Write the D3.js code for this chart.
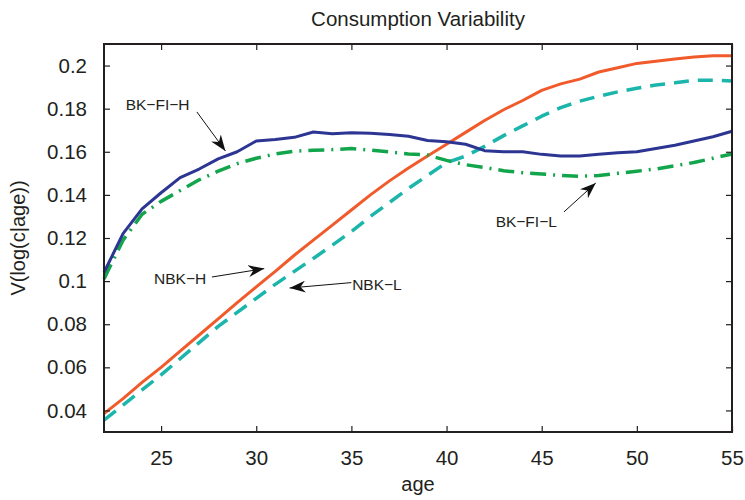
<!DOCTYPE html>
<html>
<head>
<meta charset="utf-8">
<script src="https://cdn.jsdelivr.net/npm/d3@7"></script>
<style>
  body { margin: 0; background: #fff; }
  svg { display: block; font-family: "Liberation Sans", Arial, Helvetica, sans-serif; }
</style>
</head>
<body>
<svg id="chart"></svg>
<script>
// ages on the x axis
var ages = d3.range(22, 56)

// BK-FI-H (solid navy)
var bkfiH = [0.104, 0.122, 0.1335, 0.141, 0.148, 0.152, 0.1567, 0.160, 0.165, 0.1657,
    0.1667, 0.1692, 0.1684, 0.1688, 0.1686, 0.168, 0.1672, 0.1652, 0.1646, 0.1635,
    0.1605, 0.160, 0.160, 0.1588, 0.158, 0.158, 0.1588, 0.1595, 0.160, 0.1615,
    0.163, 0.165, 0.167, 0.1695]

// BK-FI-L (dash-dot green)
var bkfiL = [0.101, 0.119, 0.131, 0.137, 0.142, 0.147, 0.151, 0.1545, 0.157, 0.159,
    0.1603, 0.1607, 0.161, 0.1615, 0.1608, 0.160, 0.159, 0.1585, 0.156, 0.154,
    0.1527, 0.1512, 0.1503, 0.1497, 0.149, 0.1486, 0.149, 0.150, 0.151, 0.152,
    0.1535, 0.155, 0.157, 0.159]

// NBK-H (solid orange-red)
var nbkH = [0.0385, 0.0455, 0.053, 0.060, 0.0675, 0.075, 0.0825, 0.090, 0.0973, 0.1045,
    0.112, 0.119, 0.126, 0.133, 0.140, 0.1465, 0.1525, 0.158, 0.1635, 0.169,
    0.1745, 0.1795, 0.1838, 0.1885, 0.1915, 0.1937, 0.197, 0.199, 0.201, 0.202,
    0.203, 0.204, 0.2045, 0.2045]

// NBK-L (dashed teal)
var nbkL = [0.0355, 0.0425, 0.0495, 0.0565, 0.064, 0.0715, 0.079, 0.0855, 0.092, 0.0985,
    0.1045, 0.1105, 0.1167, 0.123, 0.130, 0.1365, 0.143, 0.149, 0.155, 0.158,
    0.1625, 0.1675, 0.172, 0.1765, 0.1805, 0.1835, 0.1858, 0.1878, 0.1895, 0.191,
    0.192, 0.1932, 0.1932, 0.1928]

var xTicks = [25, 30, 35, 40, 45, 50, 55]
var yTicks = [0.04, 0.06, 0.08, 0.1, 0.12, 0.14, 0.16, 0.18, 0.2]

// annotations: label position, arrow start, arrow tip (age, value)
var labels = ["BK\u2212FI\u2212H", "NBK\u2212H", "NBK\u2212L", "BK\u2212FI\u2212L"]
var labelPos = [[23.14, 0.1792], [24.63, 0.0988], [35.04, 0.0957], [42.58, 0.1251]]
var arrowFrom = [[26.88, 0.1785], [27.67, 0.1019], [35.0, 0.0993], [46.17, 0.1321]]
var arrowTo = [[28.38, 0.1604], [30.42, 0.1058], [31.75, 0.0968], [47.84, 0.1455]]

var dimensions = {
    width: 745,
    height: 500,
    margin: { top: 44, bottom: 68, right: 13, left: 104 }
}

var svg = d3.select("#chart")
    .attr("width", dimensions.width)
    .attr("height", dimensions.height)

var xScale = d3.scaleLinear()
    .domain([22, 55])
    .range([dimensions.margin.left, dimensions.width - dimensions.margin.right])

var yScale = d3.scaleLinear()
    .domain([0.03, 0.21])
    .range([dimensions.height - dimensions.margin.bottom, dimensions.margin.top])

var textColor = "#231f20"

// title
svg.append("text")
    .attr("x", (xScale.range()[0] + xScale.range()[1]) / 2)
    .attr("y", 26)
    .attr("text-anchor", "middle")
    .attr("font-size", "20.5px")
    .attr("fill", textColor)
    .text("Consumption Variability")

// series
var series = [
    { values: nbkH, color: "#f15a2b", width: 3, dash: null },
    { values: nbkL, color: "#1cb5ab", width: 3.5, dash: "15,9" },
    { values: bkfiL, color: "#12a54b", width: 3.5, dash: "16,7,2,7" },
    { values: bkfiH, color: "#2d3593", width: 3, dash: null }
]

var line = d3.line()
    .x((d, i) => xScale(ages[i]))
    .y(d => yScale(d))

svg.append("g")
    .selectAll("path")
    .data(series)
    .enter()
    .append("path")
    .attr("d", d => line(d.values))
    .attr("fill", "none")
    .attr("stroke", d => d.color)
    .attr("stroke-width", d => d.width)
    .attr("stroke-dasharray", d => d.dash)
    .attr("stroke-linejoin", "round")

// axes (ticks point inward, box style)
var plotW = dimensions.width - dimensions.margin.right - dimensions.margin.left
var plotH = dimensions.height - dimensions.margin.bottom - dimensions.margin.top

var leftAxis = d3.axisLeft(yScale).tickValues(yTicks)
    .tickFormat(d3.format(".2~f")).tickSizeInner(-6).tickSizeOuter(0).tickPadding(17)
var rightAxis = d3.axisRight(yScale).tickValues(yTicks)
    .tickFormat("").tickSizeInner(-6).tickSizeOuter(0)
var bottomAxis = d3.axisBottom(xScale).tickValues(xTicks)
    .tickSizeInner(-6).tickSizeOuter(0).tickPadding(18)
var topAxis = d3.axisTop(xScale).tickValues(xTicks)
    .tickFormat("").tickSizeInner(-6).tickSizeOuter(0)

var axes = [
    svg.append("g").attr("transform", "translate(" + dimensions.margin.left + ",0)").call(leftAxis),
    svg.append("g").attr("transform", "translate(" + (dimensions.width - dimensions.margin.right) + ",0)").call(rightAxis),
    svg.append("g").attr("transform", "translate(0," + (dimensions.height - dimensions.margin.bottom) + ")").call(bottomAxis),
    svg.append("g").attr("transform", "translate(0," + dimensions.margin.top + ")").call(topAxis)
]
axes.forEach(function (g) {
    g.select(".domain").remove()
    g.selectAll("line").attr("stroke", textColor).attr("stroke-width", 1.2)
    g.selectAll("text").attr("font-size", "20.5px").attr("fill", textColor)
        .attr("font-family", "Liberation Sans, Arial, sans-serif")
})

svg.append("rect")
    .attr("x", dimensions.margin.left)
    .attr("y", dimensions.margin.top)
    .attr("width", plotW)
    .attr("height", plotH)
    .attr("fill", "none")
    .attr("stroke", textColor)
    .attr("stroke-width", 2)

// axis labels
svg.append("text")
    .attr("x", (xScale.range()[0] + xScale.range()[1]) / 2)
    .attr("y", 491)
    .attr("text-anchor", "middle")
    .attr("font-size", "20px")
    .attr("fill", textColor)
    .text("age")

svg.append("text")
    .attr("transform", "translate(25," + ((yScale.range()[0] + yScale.range()[1]) / 2) + ") rotate(-90)")
    .attr("text-anchor", "middle")
    .attr("font-size", "20px")
    .attr("fill", textColor)
    .text("V(log(c|age))")

// annotation arrows
svg.append("defs").append("marker")
    .attr("id", "head")
    .attr("viewBox", "0 0 16 12")
    .attr("refX", 16)
    .attr("refY", 6)
    .attr("markerWidth", 16)
    .attr("markerHeight", 12)
    .attr("markerUnits", "userSpaceOnUse")
    .attr("orient", "auto")
    .append("path")
    .attr("d", "M0,0 L16,6 L0,12 L5,6 Z")
    .attr("fill", "#111")

var notes = svg.append("g")
labels.forEach(function (lab, i) {
    notes.append("line")
        .attr("x1", xScale(arrowFrom[i][0]))
        .attr("y1", yScale(arrowFrom[i][1]))
        .attr("x2", xScale(arrowTo[i][0]))
        .attr("y2", yScale(arrowTo[i][1]))
        .attr("stroke", "#111")
        .attr("stroke-width", 1)
        .attr("marker-end", "url(#head)")
    notes.append("text")
        .attr("x", xScale(labelPos[i][0]))
        .attr("y", yScale(labelPos[i][1]))
        .attr("font-size", "15.5px")
        .attr("fill", textColor)
        .text(lab)
})
</script>
</body>
</html>
